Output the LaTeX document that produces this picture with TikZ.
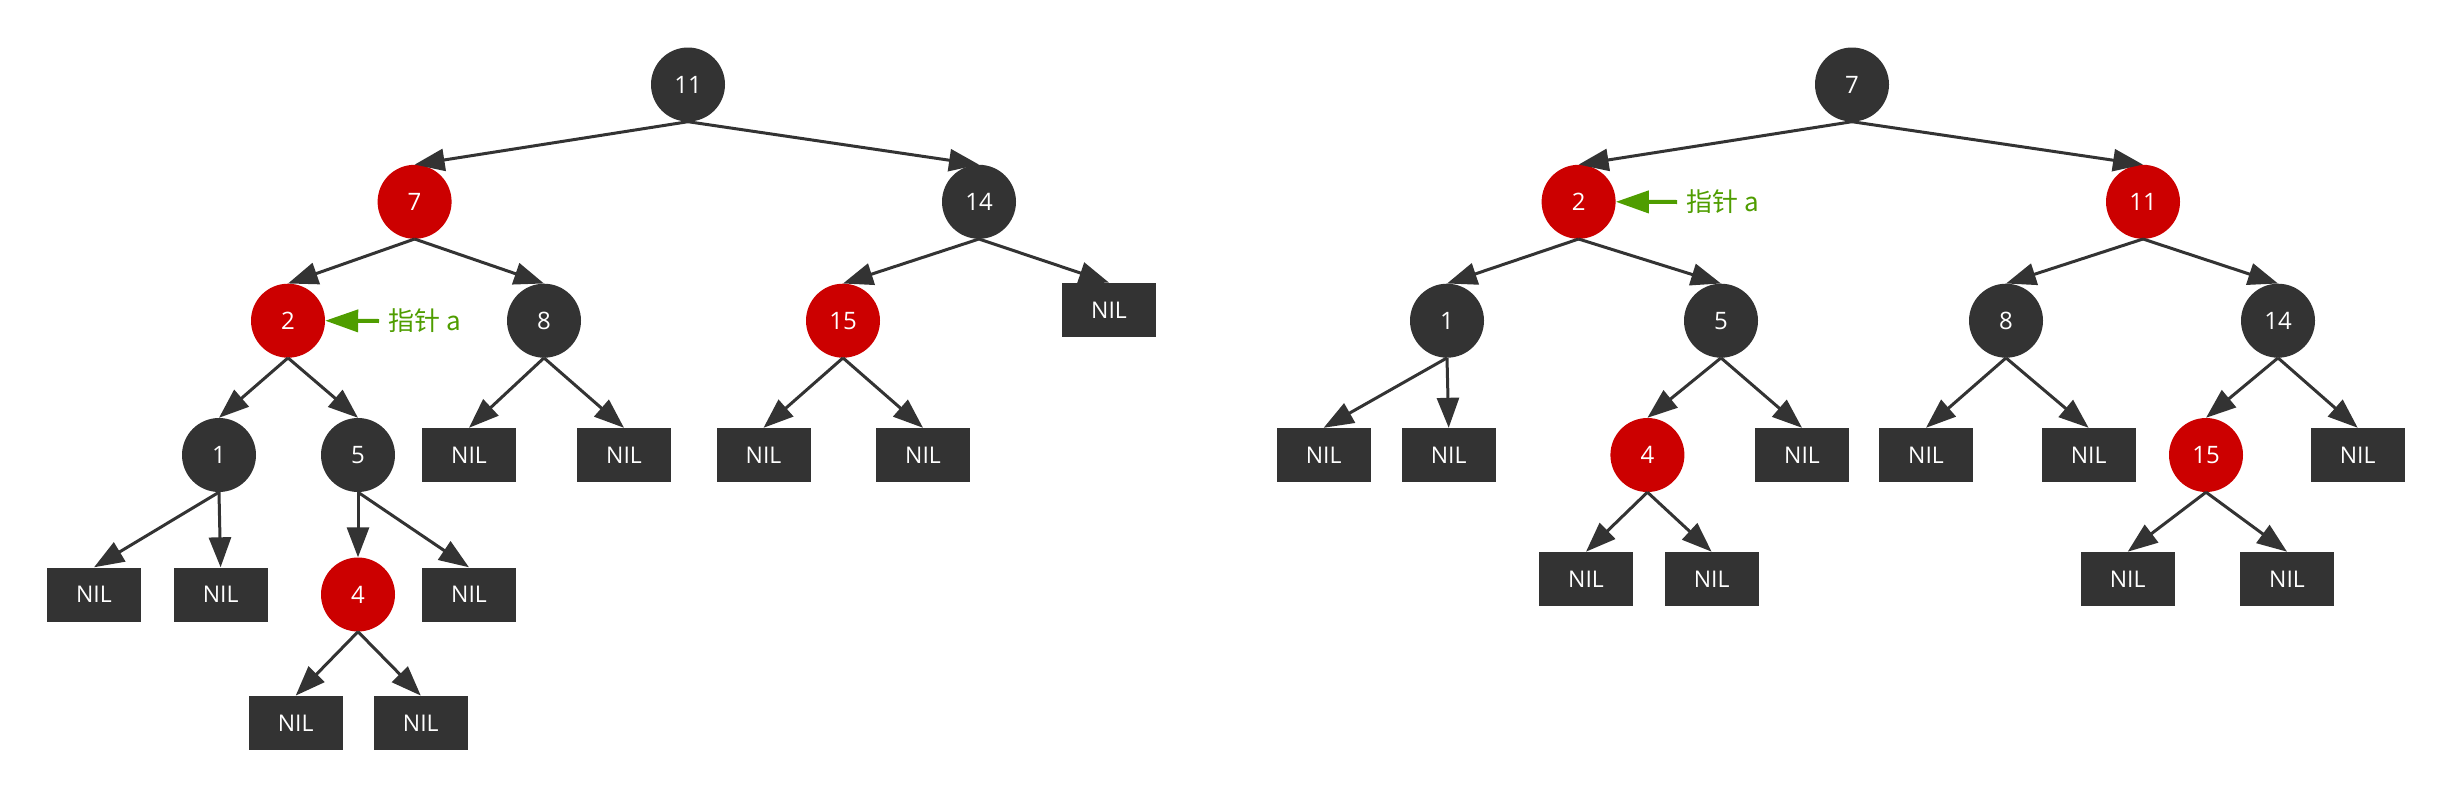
\documentclass[tikz,border=0pt]{standalone}
\usepackage{fontspec}
\setmainfont{Open Sans}
\newfontfamily\cjk{Noto Sans CJK SC}
\usetikzlibrary{arrows.meta}
\definecolor{dk}{HTML}{333333}
\definecolor{rd}{HTML}{CC0000}
\definecolor{gr}{HTML}{4F9D00}
\tikzset{
  bn/.style={circle,fill=dk,text=white,minimum size=74pt,inner sep=0pt,font=\fontsize{24}{28}\selectfont},
  rn/.style={bn,fill=rd},
  nil/.style={rectangle,fill=dk,text=white,minimum width=94pt,minimum height=54pt,inner sep=0pt,font=\fontsize{23}{28}\selectfont},
  ed/.style={draw=dk,line width=3pt,-{Triangle[length=30pt,width=22pt]}},
  ptr/.style={draw=gr,line width=4pt,-{Triangle[length=33pt,width=22pt]}},
  ptrtxt/.style={text=gr,anchor=west,inner sep=0pt,font=\cjk\fontsize{26}{30}\selectfont}
}
\begin{document}
\begin{tikzpicture}[x=1pt,y=-1pt]
\useasboundingbox (0,0) rectangle (2453,798);
% left tree
\node[bn] (a11) at (688,84.5) {11};
\node[rn] (a7) at (414.6,201.8) {7};
\node[bn] (a14) at (979,201.8) {14};
\node[rn] (a2) at (288,320.7) {2};
\node[bn] (a8) at (544,320.7) {8};
\node[rn] (a15) at (843,320.7) {15};
\node[nil] (a14r) at (1109,309.8) {NIL};
\node[bn] (a1) at (219,455) {1};
\node[bn] (a5) at (358,455) {5};
\node[nil] (a8l) at (469,455) {NIL};
\node[nil] (a8r) at (624,455) {NIL};
\node[nil] (a15l) at (763.5,455) {NIL};
\node[nil] (a15r) at (923,455) {NIL};
\node[nil] (a1l) at (94,594.5) {NIL};
\node[nil] (a1r) at (220.6,594.5) {NIL};
\node[rn] (a4) at (358,594.5) {4};
\node[nil] (a5r) at (469,594.5) {NIL};
\node[nil] (a4l) at (295.7,722.8) {NIL};
\node[nil] (a4r) at (420.8,722.8) {NIL};
\foreach \p/\c in {a11/a7,a11/a14,a7/a2,a7/a8,a14/a15,a14/a14r,a2/a1,a2/a5,a8/a8l,a8/a8r,a15/a15l,a15/a15r,a1/a1l,a1/a1r,a5/a4,a5/a5r,a4/a4l,a4/a4r}
  \draw[ed] (\p.south) -- (\c.north);
\coordinate (pa) at (379,321);
\draw[ptr] (pa) -- (a2.east);
\node[ptrtxt] (ta) at (388,321) {指针 a};
% right tree
\node[bn] (b7) at (1852,84.5) {7};
\node[rn] (b2) at (1578.6,201.8) {2};
\node[rn] (b11) at (2143,201.8) {11};
\node[bn] (b1) at (1447,320.7) {1};
\node[bn] (b5) at (1721,320.7) {5};
\node[bn] (b8) at (2006,320.7) {8};
\node[bn] (b14) at (2278,320.7) {14};
\node[nil] (b1l) at (1323.6,455) {NIL};
\node[nil] (b1r) at (1448.7,455) {NIL};
\node[rn] (b4) at (1647.4,455) {4};
\node[nil] (b5r) at (1802,455) {NIL};
\node[nil] (b8l) at (1926,455) {NIL};
\node[nil] (b8r) at (2088.6,455) {NIL};
\node[rn] (b15) at (2206,455) {15};
\node[nil] (b14r) at (2357.7,455) {NIL};
\node[nil] (b4l) at (1586,578.9) {NIL};
\node[nil] (b4r) at (1711.6,578.9) {NIL};
\node[nil] (b15l) at (2127.7,578.9) {NIL};
\node[nil] (b15r) at (2287,578.9) {NIL};
\foreach \p/\c in {b7/b2,b7/b11,b2/b1,b2/b5,b11/b8,b11/b14,b1/b1l,b1/b1r,b5/b4,b5/b5r,b8/b8l,b8/b8r,b14/b15,b14/b14r,b4/b4l,b4/b4r,b15/b15l,b15/b15r}
  \draw[ed] (\p.south) -- (\c.north);
\coordinate (pb) at (1677,202);
\draw[ptr] (pb) -- (b2.east);
\node[ptrtxt] (tb) at (1686,202) {指针 a};
\end{tikzpicture}
\end{document}
